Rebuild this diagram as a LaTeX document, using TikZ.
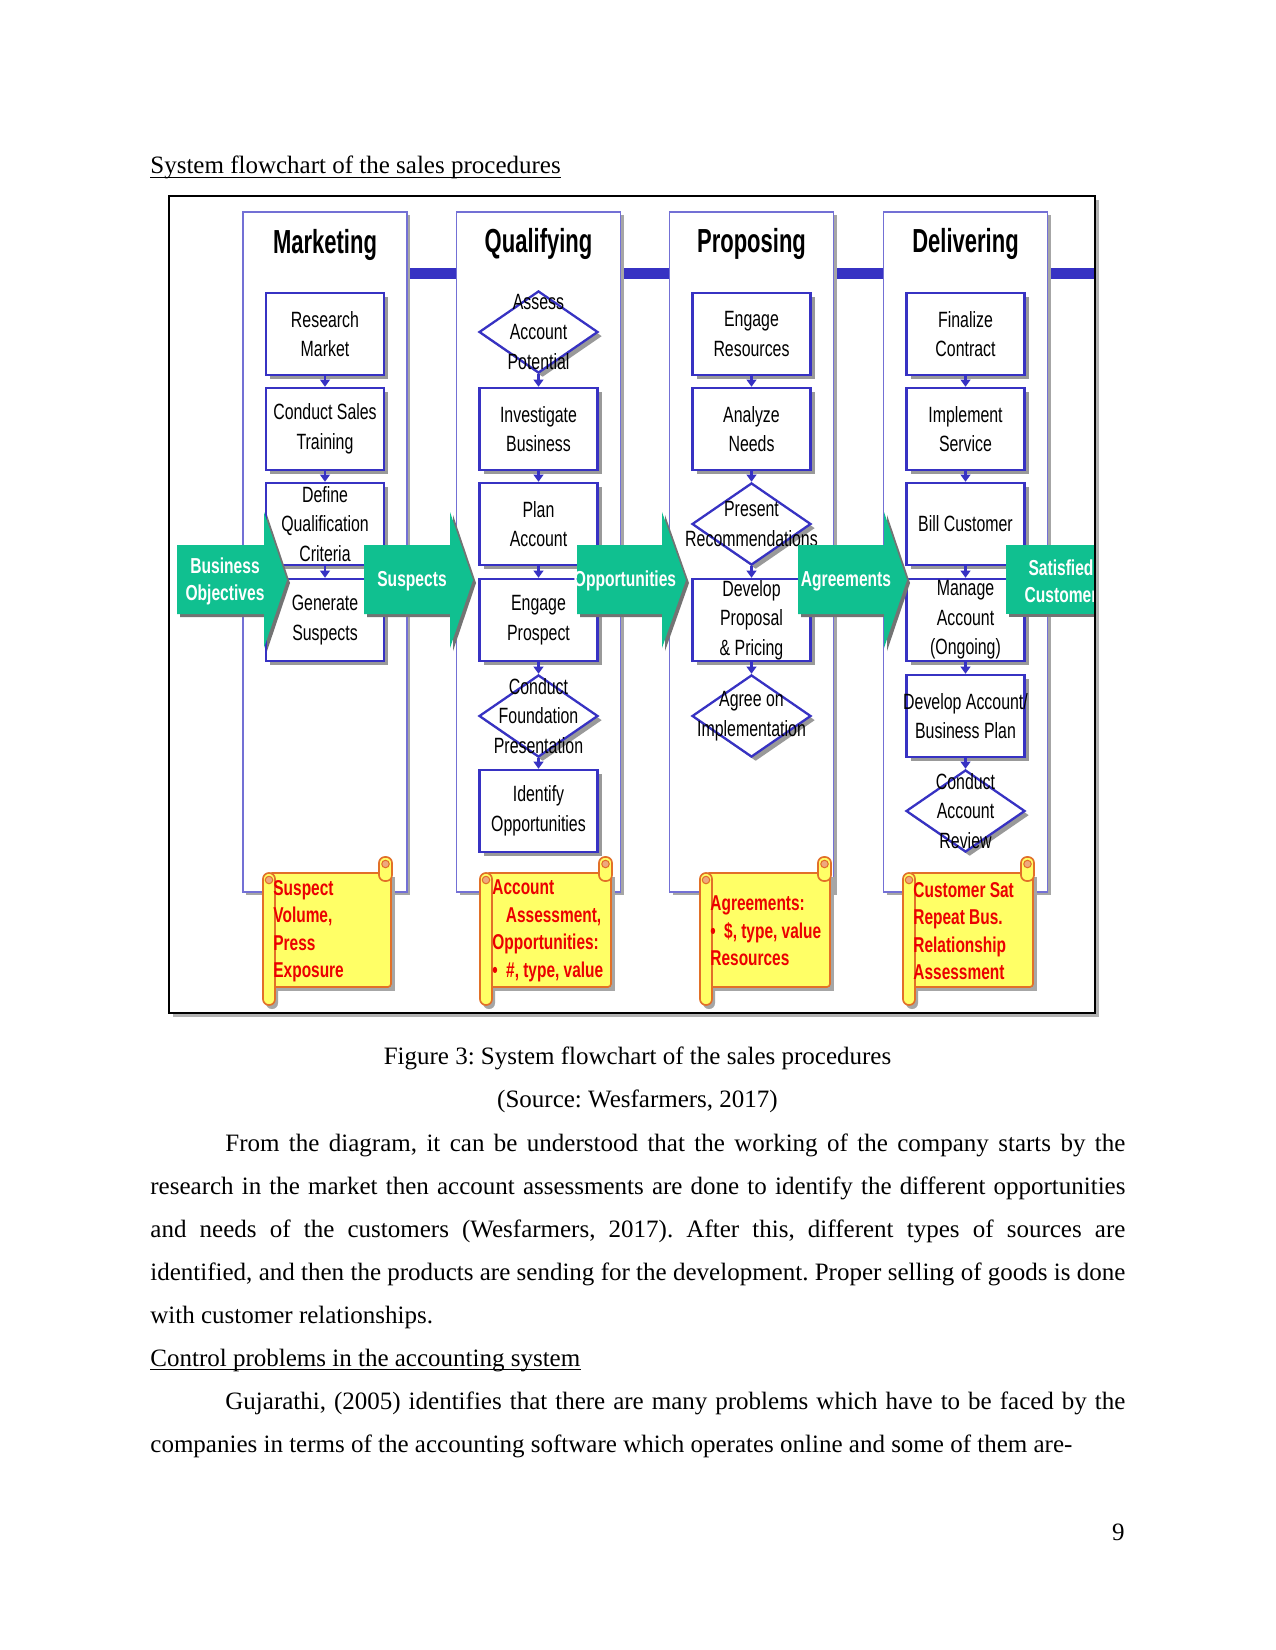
\documentclass[tikz,border=0pt]{standalone}
\usepackage{fontspec}
\setmainfont{Liberation Serif}
\newfontfamily\narrowsf[FakeStretch=0.72]{Liberation Sans}
\newfontfamily\titlesf[FakeStretch=0.66]{Liberation Sans}
\usetikzlibrary{arrows.meta,positioning,calc,shapes.geometric,shadows}
\frenchspacing

\definecolor{laneblue}{RGB}{55,50,195}
\definecolor{arrowgreen}{RGB}{16,192,144}
\definecolor{scrollfill}{RGB}{255,255,102}
\definecolor{scrolledge}{RGB}{226,112,40}
\definecolor{scrolltext}{RGB}{235,0,0}

\tikzset{
  lane/.style={draw=laneblue!70, line width=0.7pt, fill=white, minimum width=78.7pt,
    minimum height=326.4pt, inner sep=0pt,
    drop shadow={shadow xshift=1.6pt, shadow yshift=-1.6pt, fill=black!35, opacity=1}},
  lanetitle/.style={font=\titlesf\bfseries\fontsize{16}{18}\selectfont, inner sep=0pt, anchor=base},
  box/.style={draw=laneblue, line width=1.1pt, fill=white, minimum width=56.6pt,
    minimum height=39.4pt, inner sep=0pt, align=center,
    font=\narrowsf\fontsize{10.6}{14.2}\selectfont,
    drop shadow={shadow xshift=2pt, shadow yshift=-2pt, fill=black!40, opacity=1}},
  decision/.style={shape=diamond, draw=laneblue, line width=1.1pt, fill=white,
    minimum width=57.1pt, minimum height=39.4pt, inner sep=0pt,
    drop shadow={shadow xshift=2pt, shadow yshift=-2pt, fill=black!40, opacity=1}},
  dtext/.style={font=\narrowsf\fontsize{10.6}{14.2}\selectfont, align=center, inner sep=0pt},
  link/.style={draw=laneblue, line width=1pt, -{Triangle[length=3.4pt,width=4.6pt]}},
  flowlabel/.style={font=\narrowsf\bfseries\fontsize{10.4}{13}\selectfont, text=white,
    align=center, inner sep=0pt},
  scrolltxt/.style={font=\narrowsf\bfseries\fontsize{10.3}{13.2}\selectfont, text=scrolltext,
    align=left, inner sep=0pt, anchor=west},
  bodytext/.style={font=\fontsize{12}{14.4}\selectfont, inner sep=0pt, anchor=base west}
}

% green block arrow: tail x, head base x, tip x
\newcommand{\greenarrow}[3]{%
  \fill[black!55] (#1+3,548) -- (#2+3,548) -- (#2+3,515) -- (#3+3,583) -- (#2+3,651)
    -- (#2+3,617) -- (#1+3,617) -- cycle;
  \fill[arrowgreen] (#1,545) -- (#2,545) -- (#2,512) -- (#3,580) -- (#2,648)
    -- (#2,614) -- (#1,614) -- cycle;
}

% yellow scroll: left x, right x
\newcommand{\yellowscroll}[2]{%
  \fill[black!35] (#1+8,877) rectangle (#2+3,991);
  \fill[black!35, rounded corners=2.8pt] (#1+3,877) rectangle (#1+15,1009);
  \filldraw[fill=scrollfill, draw=scrolledge, line width=0.8pt, rounded corners=1.5pt]
    (#1+6,873) rectangle (#2-1,987);
  \filldraw[fill=scrollfill, draw=scrolledge, line width=0.8pt, rounded corners=2.8pt]
    (#2-13,857) rectangle (#2,881);
  \filldraw[fill=scrollfill, draw=scrolledge, line width=0.8pt, rounded corners=2.8pt]
    (#1,873) rectangle (#1+12,1005);
  \filldraw[fill=scrolledge!60, draw=scrolledge, line width=0.5pt] (#1+6,880) circle[radius=1.8pt];
  \filldraw[fill=scrolledge!60, draw=scrolledge, line width=0.5pt] (#2-6.5,864) circle[radius=1.8pt];
}

\begin{document}
\begin{tikzpicture}[x=0.48pt, y=-0.48pt]
    \fill[white] (0,0) rectangle (1275,1650);
    \useasboundingbox (0,0) rectangle (1275,1650);

    % heading
    \node[bodytext] (head1) at (150,174) {System flowchart of the sales procedures};
    \draw[line width=0.5pt] ([yshift=-1.8pt]head1.base west) -- ([yshift=-1.8pt]head1.base east);

    % frame of the figure
    \fill[black!30] (173,200) rectangle (1099,1017);
    \fill[white] (169,196) rectangle (1095,1013);

    % blue bar and lanes
    \fill[laneblue] (407,268) rectangle (1095,279);
    \node[lane] (mktlane) at (325,552) {};
    \node[lane] (quallane) at (538.5,552) {};
    \node[lane] (proplane) at (751.5,552) {};
    \node[lane] (dlvlane) at (965.5,552) {};

    \node[lanetitle] (mkt) at (325,254) {Marketing};
    \node[lanetitle] (qual) at (538.5,253) {Qualifying};
    \node[lanetitle] (prop) at (751.5,253) {Proposing};
    \node[lanetitle] (dlv) at (965.5,253) {Delivering};

    % Marketing
    \node[box] (rm) at (325,334) {Research\\Market};
    \node[box] (cst) at (325,429) {Conduct Sales\\Training};
    \node[box] (dqc) at (325,524) {Define\\Qualification\\Criteria};
    \node[box] (gs) at (325,620) {Generate\\Suspects};

    % Qualifying
    \node[decision, label={[dtext]center:Assess\\Account\\Potential}] (aap) at (538.5,332) {};
    \node[box] (ib) at (538.5,429) {Investigate\\Business};
    \node[box] (pa) at (538.5,524) {Plan\\Account};
    \node[box] (ep) at (538.5,620) {Engage\\Prospect};
    \node[decision, label={[dtext]center:Conduct\\Foundation\\Presentation}] (cfp) at (538.5,716) {};
    \node[box] (io) at (538.5,811) {Identify\\Opportunities};

    % Proposing
    \node[box] (er) at (751.5,334) {Engage\\Resources};
    \node[box] (an) at (751.5,429) {Analyze\\Needs};
    \node[decision, label={[dtext]center:Present\\Recommendations}] (pr) at (751.5,524) {};
    \node[box] (dpp) at (751.5,620) {Develop\\Proposal\\\& Pricing};
    \node[decision, label={[dtext]center:Agree on\\Implementation}] (ai) at (751.5,716) {};

    % Delivering
    \node[box] (fc) at (965.5,334) {Finalize\\Contract};
    \node[box] (is) at (965.5,429) {Implement\\Service};
    \node[box] (bc) at (965.5,524) {Bill Customer};
    \node[box] (ma) at (965.5,620) {Manage\\Account\\(Ongoing)};
    \node[box] (dab) at (965.5,716) {\makebox[0pt]{Develop Account/}\\Business Plan};
    \node[decision, label={[dtext]center:Conduct\\Account\\Review}] (car) at (965.5,811) {};

    \draw[link] (rm) -- (cst);
    \draw[link] (cst) -- (dqc);
    \draw[link] (dqc) -- (gs);
    \draw[link] (aap) -- (ib);
    \draw[link] (ib) -- (pa);
    \draw[link] (pa) -- (ep);
    \draw[link] (ep) -- (cfp);
    \draw[link] (cfp) -- (io);
    \draw[link] (er) -- (an);
    \draw[link] (an) -- (pr);
    \draw[link] (pr) -- (dpp);
    \draw[link] (dpp) -- (ai);
    \draw[link] (fc) -- (is);
    \draw[link] (is) -- (bc);
    \draw[link] (bc) -- (ma);
    \draw[link] (ma) -- (dab);
    \draw[link] (dab) -- (car);

    % green flow arrows
    \greenarrow{177}{264}{287}
    \greenarrow{364}{450}{473}
    \greenarrow{577}{662}{686}
    \greenarrow{798}{884}{907}
    \node[flowlabel] (bizobj) at (225,581) {Business\\Objectives};
    \node[flowlabel] (suspects) at (412,581) {Suspects};
    \node[flowlabel] (opps) at (625,581) {Opportunities};
    \node[flowlabel] (agrees) at (846,581) {Agreements};
    \begin{scope}
        \clip (169,196) rectangle (1095,1013);
        \fill[black!55] (1009,548) rectangle (1103,617);
        \fill[arrowgreen] (1006,545) rectangle (1100,614);
        \node[flowlabel] (satcust) at (1061,581) {Satisfied\\Customer};
    \end{scope}

    % scrolls
    \yellowscroll{263}{392}
    \yellowscroll{480}{612}
    \yellowscroll{700}{831}
    \yellowscroll{903}{1034}
    \node[scrolltxt] (svol) at (273,931) {Suspect\\Volume,\\Press\\Exposure};
    \node[scrolltxt] (accass) at (492,931) {Account\\\hspace*{6.5pt}Assessment,\\Opportunities:\\•\hspace{4pt}\#, type, value};
    \node[scrolltxt] (agrres) at (710,931) {Agreements:\\•\hspace{4pt}\$, type, value\\Resources};
    \node[scrolltxt] (custsat) at (913,931) {Customer Sat\\Repeat Bus.\\Relationship\\Assessment};

    \draw[line width=0.7pt] (169,196) rectangle (1095,1013);

    % caption and text
    \node[bodytext, anchor=base] (cap1) at (637.5,1064) {Figure 3: System flowchart of the sales procedures};
    \node[bodytext, anchor=base] (cap2) at (637.5,1107) {(Source: Wesfarmers, 2017)};
    \node[bodytext] (p1l1) at (225,1151) {\makebox[432pt][s]{From the diagram, it can be understood that the working of the company starts by the}};
    \node[bodytext] (p1l2) at (150,1194) {\makebox[468pt][s]{research in the market then account assessments are done to identify the different opportunities}};
    \node[bodytext] (p1l3) at (150,1237) {\makebox[468pt][s]{and needs of the customers (Wesfarmers, 2017). After this, different types of sources are}};
    \node[bodytext] (p1l4) at (150,1280) {\makebox[468pt][s]{identified, and then the products are sending for the development. Proper selling of goods is done}};
    \node[bodytext] (p1l5) at (150,1323) {with customer relationships.};
    \node[bodytext] (head2) at (150,1366) {Control problems in the accounting system};
    \draw[line width=0.5pt] ([yshift=-1.8pt]head2.base west) -- ([yshift=-1.8pt]head2.base east);
    \node[bodytext] (p2l1) at (225,1409) {\makebox[432pt][s]{Gujarathi, (2005) identifies that there are many problems which have to be faced by the}};
    \node[bodytext] (p2l2) at (150,1452) {companies in terms of the accounting software which operates online and some of them are-};
    \node[bodytext, anchor=base east] (pnum) at (1125,1540) {9};
\end{tikzpicture}
\end{document}
